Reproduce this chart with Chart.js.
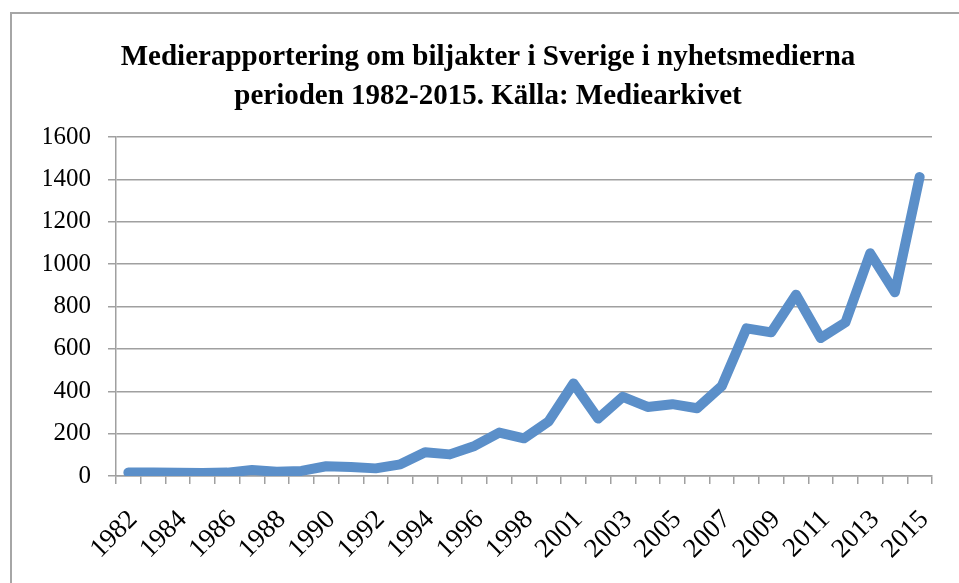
<!DOCTYPE html>
<html lang="sv">
<head>
  <meta charset="UTF-8" />
  <title>Biljakter i nyhetsmedierna</title>
  <script src="https://cdn.jsdelivr.net/npm/chart.js"></script>
  <style>
    html, body {
      margin: 0;
      padding: 0;
      background: #ffffff;
      overflow: hidden;
    }
    .frame {
      position: absolute;
      left: 10px;
      top: 12px;
      width: 1000px;
      height: 700px;
      border: 2px solid #a6a6a6;
      box-sizing: border-box;
    }
    .wrap {
      position: absolute;
      left: 0;
      top: 0;
      width: 959px;
      height: 583px;
    }
  </style>
</head>
<body>
  <div class="frame"></div>
  <div class="wrap">
    <canvas id="chart" width="959" height="583"></canvas>
  </div>

  <script>
    // år (2000 saknas i källan)
    const years = [
      "1982", "1983", "1984", "1985", "1986", "1987", "1988", "1989", "1990",
      "1991", "1992", "1993", "1994", "1995", "1996", "1997", "1998", "1999",
      "2001", "2002", "2003", "2004", "2005", "2006", "2007", "2008", "2009",
      "2010", "2011", "2012", "2013", "2014", "2015"
    ];
    // antal artiklar per år
    const articles = [
      16, 17, 15, 14, 16, 28, 20, 24, 46,
      43, 36, 55, 112, 102, 142, 205, 178, 258,
      437, 271, 374, 326, 339, 320, 425, 697, 678,
      856, 651, 725, 1051, 867, 1411
    ];
    const titleLines = [
      "Medierapportering om biljakter i Sverige i nyhetsmedierna",
      "perioden 1982-2015. Källa: Mediearkivet"
    ];

    const gridGray = "#a0a0a0";
    const serif = "'Liberation Serif', 'Times New Roman', serif";

    new Chart(document.getElementById("chart"), {
      type: "line",
      data: {
        labels: years,
        datasets: [
          {
            label: "Artiklar",
            data: articles,
            borderColor: "#5b8fc9",
            backgroundColor: "#5b8fc9",
            borderWidth: 10,
            borderCapStyle: "round",
            borderJoinStyle: "round",
            pointRadius: 0,
            tension: 0,
            fill: false
          }
        ]
      },
      options: {
        responsive: false,
        animation: false,
        layout: { padding: { left: 44, right: 27, top: 0, bottom: 0 } },
        plugins: {
          legend: { display: false },
          tooltip: { enabled: false },
          title: {
            display: true,
            text: titleLines,
            color: "#000000",
            font: { family: serif, size: 29, weight: "bold", lineHeight: 1.345 },
            padding: { top: 38, bottom: 21 }
          }
        },
        scales: {
          x: {
            offset: true,
            afterFit: (scale) => {
              scale.height = 107;
              scale.paddingLeft = 0;
              scale.paddingRight = 0;
            },
            grid: {
              offset: true,
              drawOnChartArea: false,
              drawTicks: true,
              tickLength: 8,
              color: gridGray,
              lineWidth: 1.5
            },
            border: { display: true, color: gridGray, width: 1.5 },
            ticks: {
              autoSkip: false,
              maxRotation: 45,
              minRotation: 45,
              padding: 20,
              labelOffset: 5,
              color: "#000000",
              font: { family: serif, size: 27 },
              callback: function (value, index) {
                return index % 2 === 0 ? this.getLabelForValue(value) : "";
              }
            }
          },
          y: {
            min: 0,
            max: 1600,
            afterFit: (scale) => { scale.width = 72; },
            grid: {
              color: gridGray,
              lineWidth: 1.5,
              tickLength: 8
            },
            border: { display: true, color: gridGray, width: 1.5 },
            ticks: {
              stepSize: 200,
              padding: 17,
              color: "#000000",
              font: { family: serif, size: 25 },
              callback: (value) => String(value)
            }
          }
        }
      }
    });
  </script>
</body>
</html>
